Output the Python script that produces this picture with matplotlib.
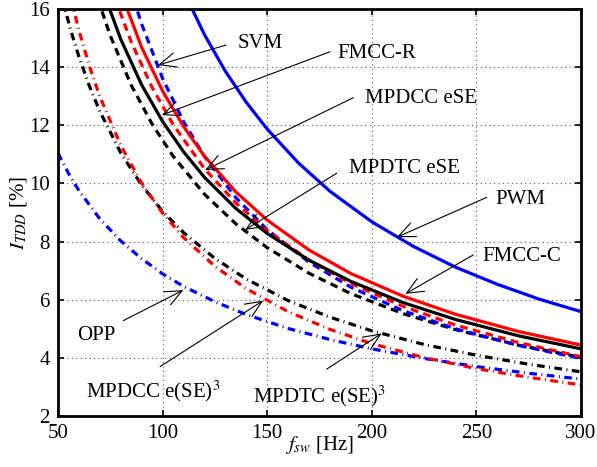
import matplotlib
matplotlib.use("Agg")
import matplotlib.pyplot as plt

plt.rcParams['font.family'] = ['Liberation Serif', 'DejaVu Serif']
plt.rcParams['mathtext.fontset'] = 'stix'
plt.rcParams['font.size'] = 15

# ---- data ----
f_pwm = [110, 120, 130, 140, 150, 165, 180, 200, 220, 240, 260, 280, 300]
i_pwm = [16.62, 15.12, 13.86, 12.79, 11.87, 10.70, 9.73, 8.68, 7.83, 7.12, 6.53, 6.02, 5.59]

f_svm = [85, 90, 100, 110, 120, 135, 150, 170, 190, 215, 240, 270, 300]
i_svm = [16.60, 15.48, 13.61, 12.13, 10.93, 9.51, 8.41, 7.29, 6.43, 5.62, 5.00, 4.43, 3.98]

f_fmccc = [80, 90, 100, 110, 120, 135, 150, 170, 190, 215, 240, 270, 300]
i_fmccc = [16.58, 14.68, 13.18, 11.96, 10.94, 9.71, 8.74, 7.71, 6.90, 6.12, 5.50, 4.91, 4.44]

f_fmccr = [72, 80, 90, 100, 110, 120, 135, 150, 170, 190, 215, 240, 270, 300]
i_fmccr = [16.52, 14.96, 13.39, 12.13, 11.09, 10.21, 9.14, 8.28, 7.36, 6.63, 5.90, 5.32, 4.76, 4.31]

f_mpdcc_ese = [77, 85, 95, 105, 120, 135, 150, 170, 190, 215, 240, 270, 300]
i_mpdcc_ese = [16.41, 14.87, 13.30, 12.03, 10.51, 9.33, 8.38, 7.36, 6.56, 5.77, 5.13, 4.53, 4.04]

f_mpdtc_ese = [68, 75, 85, 95, 105, 120, 135, 150, 170, 190, 215, 240, 270, 300]
i_mpdtc_ese = [16.56, 15.08, 13.38, 12.04, 10.94, 9.63, 8.61, 7.79, 6.91, 6.21, 5.52, 4.97, 4.44, 4.02]

f_mpdcc_e3 = [56, 60, 65, 70, 80, 90, 100, 110, 125, 140, 160, 180, 200, 225, 250, 275, 300]
i_mpdcc_e3 = [16.42, 15.27, 14.04, 12.99, 11.31, 10.01, 8.98, 8.14, 7.15, 6.38, 5.59, 4.98, 4.49, 4.01, 3.63, 3.33, 3.07]

f_mpdtc_e3 = [52, 56, 60, 65, 70, 80, 90, 100, 110, 125, 140, 160, 180, 200, 225, 250, 275, 300]
i_mpdtc_e3 = [16.37, 15.29, 14.36, 13.35, 12.48, 11.05, 9.94, 9.04, 8.31, 7.42, 6.71, 5.97, 5.40, 4.93, 4.46, 4.09, 3.78, 3.52]

f_opp = [50, 55, 60, 70, 80, 90, 100, 110, 125, 140, 160, 180, 200, 225, 250, 275, 300]
i_opp = [11.04, 10.35, 9.75, 8.78, 8.02, 7.41, 6.89, 6.46, 5.93, 5.49, 5.01, 4.63, 4.31, 3.98, 3.70, 3.47, 3.27]

xticks = [50, 100, 150, 200, 250, 300]
yticks = [2, 4, 6, 8, 10, 12, 14, 16]

# ---- figure ----
fig = plt.figure(figsize=(5.97, 4.67), dpi=100)
ax = fig.add_axes([58/597, 1-416/467, (581-58)/597, (416-9)/467])

lw = 2.3
dash = (0, (2.4, 1.7))
dashdot = (0, (2.4, 1.4, 0.3, 1.4))

ax.plot(f_opp, i_opp, color='blue', lw=lw, ls=dashdot)
ax.plot(f_mpdtc_e3, i_mpdtc_e3, color='black', lw=lw, ls=dashdot)
ax.plot(f_mpdcc_e3, i_mpdcc_e3, color='red', lw=lw, ls=dashdot)
ax.plot(f_mpdtc_ese, i_mpdtc_ese, color='black', lw=lw, ls=dash)
ax.plot(f_svm, i_svm, color='blue', lw=lw, ls=dash)
ax.plot(f_mpdcc_ese, i_mpdcc_ese, color='red', lw=lw, ls=dash)
ax.plot(f_fmccr, i_fmccr, color='black', lw=lw, ls='-')
ax.plot(f_fmccc, i_fmccc, color='red', lw=lw, ls='-')
ax.plot(f_pwm, i_pwm, color='blue', lw=lw, ls='-')

ax.set_xlim(50, 300)
ax.set_ylim(2, 16)
ax.set_xticks(xticks)
ax.set_yticks(yticks)
ax.grid(True, ls=(0, (1, 3)), color='0.35', lw=0.8)
ax.tick_params(direction='in', top=True, right=True, length=4, width=1.2,
               labelsize=15, pad=6)
for s in ax.spines.values():
    s.set_linewidth(2.0)

ax.set_xlabel(r'$f_{sw}$ [Hz]', fontsize=15, labelpad=-7)
ax.set_ylabel(r'$I_{TDD}$ [%]', fontsize=15, labelpad=0)

arrow = dict(arrowstyle='->,head_length=0.8,head_width=0.35', lw=0.8, color='black',
             shrinkA=0, shrinkB=0)

def label(text, pos, tail, tip, ha='center', va='center'):
    ax.text(pos[0], pos[1], text, ha=ha, va=va, fontsize=15)
    ax.annotate('', xy=tip, xytext=tail, arrowprops=arrow)

label('SVM', (146.6, 14.83), (130.3, 14.76), (97.8, 14.07))
label('FMCC-R', (202.3, 14.48), (180.0, 14.53), (99.6, 12.35))
label('MPDCC eSE', (223.4, 12.93), (191.2, 12.95), (120.3, 10.46))
label('MPDTC eSE', (215.4, 10.52), (183.2, 10.35), (139.4, 8.40))
label('PWM', (271.2, 9.45), (254.9, 9.52), (212.0, 8.15))
label('FMCC-C', (271.6, 7.50), (248.5, 7.54), (216.0, 6.20))
label('OPP', (68.5, 4.76), (81.2, 5.28), (109.9, 6.33))
label(r'MPDCC e(SE)$^3$', (63.4, 2.63), (98.8, 3.70), (148.1, 5.97), ha='left', va='baseline')
label(r'MPDTC e(SE)$^3$', (143.4, 2.47), (178.4, 3.61), (204.7, 4.84), ha='left', va='baseline')

fig.savefig('out.png', dpi=100)
